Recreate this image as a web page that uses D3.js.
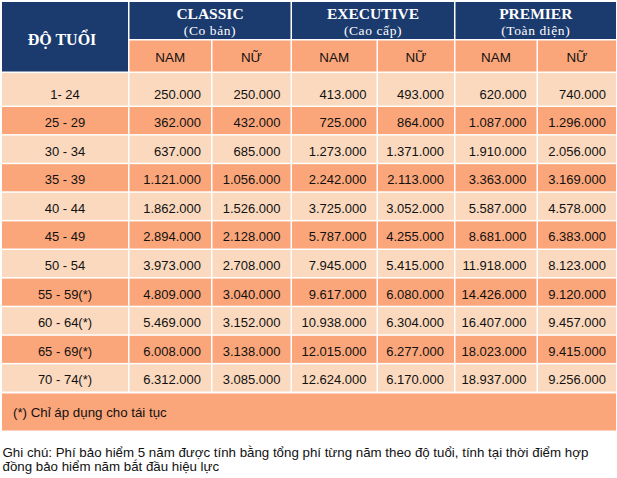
<!DOCTYPE html>
<html>
<head>
<meta charset="utf-8">
<script src="https://cdn.jsdelivr.net/npm/d3@7"></script>
<style>
  body { margin: 0; background: #fff; }
  svg { display: block; }
  .serif { font-family: "Liberation Serif", "Times New Roman", serif; fill: #fff; }
  .sans { font-family: "Liberation Sans", Arial, sans-serif; fill: #111; font-size: 13px; }
</style>
</head>
<body>
<div id="chart"></div>
<script>
// data
var ages = ["1- 24", "25 - 29", "30 - 34", "35 - 39", "40 - 44", "45 - 49", "50 - 54",
            "55 - 59(*)", "60 - 64(*)", "65 - 69(*)", "70 - 74(*)"];
var plans = ["CLASSIC", "EXECUTIVE", "PREMIER"];
var planSubs = ["(Co bản)", "(Cao cấp)", "(Toàn diện)"];
var genders = ["NAM", "NỮ"];

var classicNam = [250000, 362000, 637000, 1121000, 1862000, 2894000, 3973000, 4809000, 5469000, 6008000, 6312000];
var classicNu  = [250000, 432000, 685000, 1056000, 1526000, 2128000, 2708000, 3040000, 3152000, 3138000, 3085000];
var execNam    = [413000, 725000, 1273000, 2242000, 3725000, 5787000, 7945000, 9617000, 10938000, 12015000, 12624000];
var execNu     = [493000, 864000, 1371000, 2113000, 3052000, 4255000, 5415000, 6080000, 6304000, 6277000, 6170000];
var premNam    = [620000, 1087000, 1910000, 3363000, 5587000, 8681000, 11918000, 14426000, 16407000, 18023000, 18937000];
var premNu     = [740000, 1296000, 2056000, 3169000, 4578000, 6383000, 8123000, 9120000, 9457000, 9415000, 9256000];

var headerTitle = "ĐỘ TUỔI";
var footNote = "(*) Chỉ áp dụng cho tái tục";
var noteLines = [
  "Ghi chú: Phí bảo hiểm 5 năm được tính bằng tổng phí từng năm theo độ tuổi, tính tại thời điểm hợp",
  "đồng bảo hiểm năm bắt đầu hiệu lực"
];

// layout
var W = 617, H = 478;
var gap = 1.5;
var colStarts = [2, 129.5, 212.5, 292, 378, 455.5, 538, 617.5];
var head1 = [2, 40.5], head2 = [40.5, 73];
var rowTop = 73, firstRowH = 34, rowH = 28.6;
var colors = { navy: "#1b3a6e", orange: "#fba67a", peach: "#fbd9be" };

var columns = [classicNam, classicNu, execNam, execNu, premNam, premNu];

var vn = d3.formatLocale({ decimal: ",", thousands: ".", grouping: [3], currency: ["", ""] });
var fmt = vn.format(",d");

var svg = d3.select("#chart").append("svg")
  .attr("width", W).attr("height", H);

function cx(i) { return colStarts[i]; }
function cw(i) { return colStarts[i + 1] - colStarts[i] - gap; }

// row positions
var rowHeights = ages.map(function(d, i) { return i === 0 ? firstRowH : rowH; });
var rowTops = [rowTop].concat(Array.from(d3.cumsum(rowHeights)).map(function(s) { return rowTop + s; }));
var y = d3.scaleOrdinal().domain(ages).range(rowTops.slice(0, ages.length));

// header: age title
svg.append("rect")
  .attr("x", cx(0)).attr("y", head1[0])
  .attr("width", cw(0)).attr("height", head2[1] - head1[0] - gap)
  .attr("fill", colors.navy);
svg.append("text").attr("class", "serif")
  .attr("x", cx(0) + cw(0) / 2 - 3).attr("y", 45)
  .attr("text-anchor", "middle").style("font-size", "16px").style("font-weight", "bold")
  .text(headerTitle);

// header: plans
plans.forEach(function(p, k) {
  var x0 = cx(1 + 2 * k), x1 = cx(3 + 2 * k) - gap;
  svg.append("rect")
    .attr("x", x0).attr("y", head1[0])
    .attr("width", x1 - x0).attr("height", head1[1] - head1[0] - gap)
    .attr("fill", colors.navy);
  svg.append("text").attr("class", "serif")
    .attr("x", (x0 + x1) / 2).attr("y", 19)
    .attr("text-anchor", "middle").style("font-size", "15.5px").style("font-weight", "bold")
    .text(p);
  svg.append("text").attr("class", "serif")
    .attr("x", (x0 + x1) / 2).attr("y", 34.5)
    .attr("text-anchor", "middle").style("font-size", "13.5px").style("letter-spacing", "0.6px")
    .text(planSubs[k]);

  genders.forEach(function(g, j) {
    var c = 1 + 2 * k + j;
    svg.append("rect")
      .attr("x", cx(c)).attr("y", head2[0])
      .attr("width", cw(c)).attr("height", head2[1] - head2[0] - gap)
      .attr("fill", colors.orange);
    svg.append("text").attr("class", "sans")
      .attr("x", cx(c) + cw(c) / 2).attr("y", 61.5)
      .attr("text-anchor", "middle")
      .style("font-size", "13.4px")
      .text(g);
  });
});

// body rows
var rows = svg.selectAll(".row")
  .data(ages)
  .enter().append("g")
  .attr("class", "row")
  .attr("transform", function(d) { return "translate(0," + y(d) + ")"; });

rows.each(function(age, i) {
  var g = d3.select(this);
  var h = rowHeights[i] - gap;
  var fill = i % 2 === 0 ? colors.peach : colors.orange;
  var base = h - 7;

  g.append("rect").attr("x", cx(0)).attr("width", cw(0)).attr("height", h).attr("fill", fill);
  g.append("text").attr("class", "sans")
    .attr("x", cx(0) + cw(0) / 2).attr("y", base)
    .attr("text-anchor", "middle").text(age);

  columns.forEach(function(col, j) {
    var c = j + 1;
    g.append("rect").attr("x", cx(c)).attr("width", cw(c)).attr("height", h).attr("fill", fill);
    g.append("text").attr("class", "sans")
      .attr("x", cx(c) + cw(c) - 10).attr("y", base)
      .attr("text-anchor", "end").text(fmt(col[i]));
  });
});

// footer row
var footTop = rowTops[ages.length] + 0.5;
svg.append("rect")
  .attr("x", cx(0)).attr("y", footTop)
  .attr("width", colStarts[7] - gap - cx(0)).attr("height", 37)
  .attr("fill", colors.orange);
svg.append("text").attr("class", "sans")
  .attr("x", 13).attr("y", footTop + 23.5)
  .style("font-size", "13.3px")
  .text(footNote);

// note
svg.selectAll(".note")
  .data(noteLines)
  .enter().append("text")
  .attr("class", "sans note")
  .attr("x", 2.5)
  .attr("y", function(d, i) { return 457 + i * 14; })
  .style("font-size", "13.3px")
  .text(function(d) { return d; });
</script>
</body>
</html>
